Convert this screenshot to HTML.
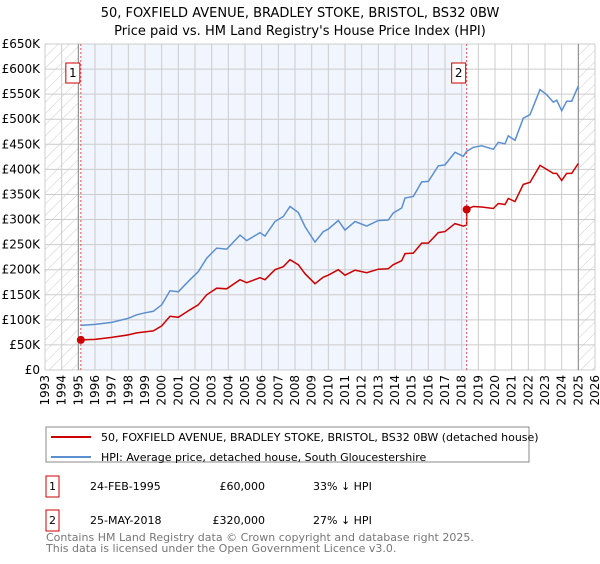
<!DOCTYPE html>
<html><head><meta charset="utf-8"><style>
body{margin:0;background:#fff;width:600px;height:560px;overflow:hidden;font-family:"DejaVu Sans","Liberation Sans",sans-serif;}
</style></head><body>
<svg id="chart" width="600" height="560" xmlns="http://www.w3.org/2000/svg" font-family="DejaVu Sans, Liberation Sans, sans-serif">
<defs><pattern id="hatch" width="8" height="8" patternUnits="userSpaceOnUse" patternTransform="rotate(45)"><line x1="0" y1="0" x2="0" y2="8" stroke="#ccc" stroke-width="1"/></pattern></defs>
<text x="300" y="17" text-anchor="middle" font-size="13" fill="#000">50, FOXFIELD AVENUE, BRADLEY STOKE, BRISTOL, BS32 0BW</text>
<text x="300" y="35" text-anchor="middle" font-size="13" fill="#000">Price paid vs. HM Land Registry's House Price Index (HPI)</text>
<g id="bg"></g><g id="grid"></g><g id="axes"></g><g id="series"></g><g id="marks"></g>
<g>
<rect x="46" y="427" width="483" height="35" fill="#fff" stroke="#888"/>
<line x1="51" y1="437" x2="91" y2="437" stroke="#cc0000" stroke-width="2"/>
<text x="101" y="441" font-size="11">50, FOXFIELD AVENUE, BRADLEY STOKE, BRISTOL, BS32 0BW (detached house)</text>
<line x1="51" y1="457" x2="91" y2="457" stroke="#5b8fd0" stroke-width="2"/>
<text x="101" y="461" font-size="11">HPI: Average price, detached house, South Gloucestershire</text>
</g>
<g font-size="11">
<rect x="46" y="476" width="13" height="21" fill="#fff" stroke="#cc0000"/><text x="52.5" y="490" text-anchor="middle">1</text>
<text x="90" y="490">24-FEB-1995</text><text x="265" y="490" text-anchor="end">£60,000</text><text x="313" y="490">33% ↓ HPI</text>
<rect x="46" y="510" width="13" height="21" fill="#fff" stroke="#cc0000"/><text x="52.5" y="524" text-anchor="middle">2</text>
<text x="90" y="524">25-MAY-2018</text><text x="265" y="524" text-anchor="end">£320,000</text><text x="313" y="524">27% ↓ HPI</text>
</g>
<text x="46" y="541" font-size="11" fill="#777">Contains HM Land Registry data © Crown copyright and database right 2025.</text>
<text x="46" y="552" font-size="11" fill="#777">This data is licensed under the Open Government Licence v3.0.</text>
</svg>
<script>
const hpiYears=[1995.15,1996,1997,1998,1998.5,1999,1999.5,2000,2000.5,2001,2001.7,2002.2,2002.7,2003.3,2003.9,2004.7,2005.1,2005.9,2006.2,2006.8,2007.3,2007.7,2008.2,2008.6,2009.2,2009.7,2010,2010.6,2011,2011.6,2012.3,2013,2013.6,2013.9,2014.4,2014.6,2015.1,2015.6,2016,2016.6,2017,2017.6,2018.1,2018.3,2018.7,2019.2,2019.9,2020.2,2020.6,2020.8,2021.2,2021.7,2022.1,2022.7,2023.1,2023.5,2023.7,2024,2024.3,2024.6,2025];
const hpiValues=[89,91,95,103,110,114,117,130,158,156,180,196,223,243,241,269,258,274,267,296,306,326,314,286,255,276,281,298,279,296,287,298,299,313,323,343,346,375,376,407,409,434,426,436,444,447,440,454,451,467,458,502,509,559,549,534,538,517,536,536,566];
const priceYears=[1995.15,1996,1997,1998,1998.5,1999,1999.5,2000,2000.5,2001,2001.7,2002.2,2002.7,2003.3,2003.9,2004.7,2005.1,2005.9,2006.2,2006.8,2007.3,2007.7,2008.2,2008.6,2009.2,2009.7,2010,2010.6,2011,2011.6,2012.3,2013,2013.6,2013.9,2014.4,2014.6,2015.1,2015.6,2016,2016.6,2017,2017.6,2018.1,2018.3,2018.3,2018.7,2019.2,2019.9,2020.2,2020.6,2020.8,2021.2,2021.7,2022.1,2022.7,2023.1,2023.5,2023.7,2024,2024.3,2024.6,2025];
const priceValues=[60,61,65,70,74,76,78,88,107,105,120,130,150,163,162,180,174,184,180,200,206,220,210,192,172,185,189,200,189,199,194,201,202,210,218,232,233,253,253,274,276,292,287,289,320,326,325,322,332,330,342,336,370,374,408,400,392,392,378,392,392,412];
const saleYears=[1995.15,2018.3];
const saleValues=[60,320];
const saleLabels=["1","2"];
const yTicks=[0,50,100,150,200,250,300,350,400,450,500,550,600,650];
const yTickLabels=["£0","£50K","£100K","£150K","£200K","£250K","£300K","£350K","£400K","£450K","£500K","£550K","£600K","£650K"];
const xTicks=[1993,1994,1995,1996,1997,1998,1999,2000,2001,2002,2003,2004,2005,2006,2007,2008,2009,2010,2011,2012,2013,2014,2015,2016,2017,2018,2019,2020,2021,2022,2023,2024,2025,2026];

const L=45,R=595,T=44,B=370;
const xs=y=>L+(y-1993)/(2026-1993)*(R-L);
const ys=v=>B-v/650*(B-T);
const NS="http://www.w3.org/2000/svg";
function mk(tag,attrs,parent,txt){const e=document.createElementNS(NS,tag);for(const k in attrs)e.setAttribute(k,attrs[k]);if(txt!==undefined)e.textContent=txt;document.getElementById(parent).appendChild(e);return e;}
// backgrounds
let e;
e=mk('rect',{x:xs(1993),y:T,width:xs(1995)-xs(1993),height:B-T,fill:'url(#hatch)'},'bg');


e=mk('rect',{x:xs(2025),y:T,width:xs(2026)-xs(2025),height:B-T,fill:'url(#hatch)'},'bg');


e=mk('rect',{x:xs(saleYears[0]),y:T,width:xs(saleYears[1])-xs(saleYears[0]),height:B-T,fill:'#eef3fc',opacity:0.8},'bg');


// grid
xTicks.forEach(t=>{
 e=mk('line',{x1:xs(t),x2:xs(t),y1:T,y2:B,stroke:'#ccc','stroke-width':1},'grid');
 
 
 e=mk('text',{x:xs(t)+4,y:B+5,'font-size':12,'text-anchor':'end',transform:`rotate(-90 ${xs(t)+4} ${B+5})`},'axes',String(t));
 
 
});
yTicks.forEach((t,i)=>{
 e=mk('line',{x1:L,x2:R,y1:ys(t),y2:ys(t),stroke:'#ccc','stroke-width':1},'grid');
 
 
 e=mk('text',{x:L-5,y:ys(t)+4,'font-size':12,'text-anchor':'end'},'axes',yTickLabels[i]);
 
 
});
e=mk('line',{x1:xs(1995),x2:xs(1995),y1:T,y2:B,stroke:'#888'},'grid');


e=mk('line',{x1:xs(2025),x2:xs(2025),y1:T,y2:B,stroke:'#888'},'grid');


// series
function path(xa,va){return xa.map((x,i)=>(i?'L':'M')+xs(x).toFixed(1)+','+ys(va[i]).toFixed(1)).join('');}
e=mk('path',{d:path(hpiYears,hpiValues),fill:'none',stroke:'#5b8fd0','stroke-width':1.5},'series');


e=mk('path',{d:path(priceYears,priceValues),fill:'none',stroke:'#cc0000','stroke-width':1.5},'series');


// sale markers
saleYears.forEach((y,i)=>{
 e=mk('line',{x1:xs(y),x2:xs(y),y1:T,y2:B,stroke:'#e05050','stroke-width':1,'stroke-dasharray':'2,2'},'marks');
 
 
 e=mk('circle',{cx:xs(y),cy:ys(saleValues[i]),r:4,fill:'#cc0000'},'marks');
 
 
 e=mk('rect',{x:xs(y)-15,y:63,width:14,height:20,fill:'#fff',stroke:'#cc0000'},'marks');
 
 
 e=mk('text',{x:xs(y)-8,y:77,'font-size':12,'text-anchor':'middle'},'marks',saleLabels[i]);
 
 
});
</script>
</body></html>
